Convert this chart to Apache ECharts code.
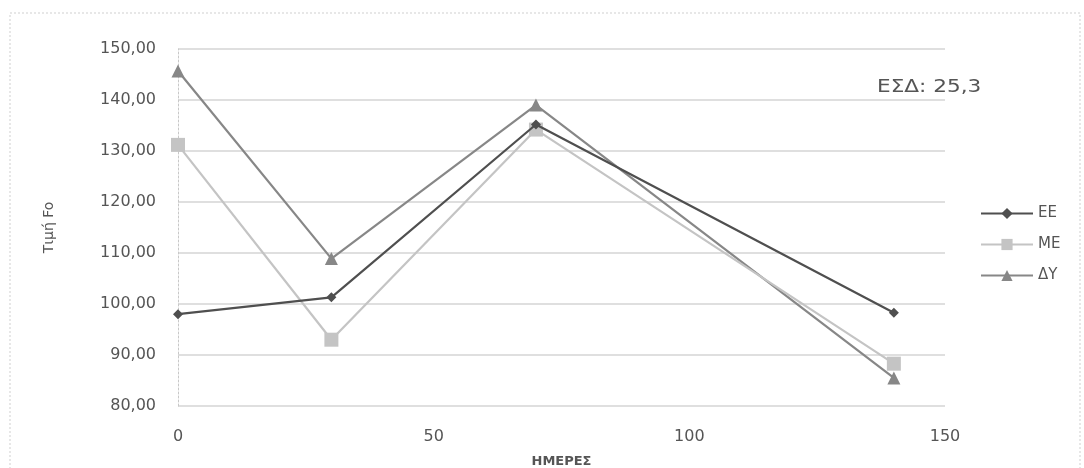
<!DOCTYPE html>
<html><head><meta charset="utf-8">
<script src="https://cdn.jsdelivr.net/npm/echarts@6/dist/echarts.min.js"></script>
<style>html,body{margin:0;padding:0;background:#fff}#c{width:1084px;height:468px}</style>
</head><body><div id="c"></div>
<script>
const days = [0, 30, 70, 140];
const seriesNames = ['ΕΕ', 'ΜΕ', 'ΔΥ'];
const valuesEE = [98.0, 101.3, 135.2, 98.3];
const valuesME = [131.2, 93.0, 134.2, 88.3];
const valuesDY = [145.7, 108.9, 139.0, 85.5];
const yTicks = [80, 90, 100, 110, 120, 130, 140, 150];
const xTicks = [0, 50, 100, 150];
const annotation = 'ΕΣΔ: 25,3';

const colors = ['#4f4f4f', '#c4c4c4', '#878787'];
const symbols = ['diamond', 'rect', 'triangle'];
const sizes = [10, 14, 13];
const all = [valuesEE, valuesME, valuesDY];

const chart = echarts.init(document.getElementById('c'));
const font = '"DejaVu Sans", "Open Sans", sans-serif';
chart.setOption({
  animation: false,
  backgroundColor: '#fff',
  grid: {left: 178, right: 139, top: 49, bottom: 62, show: false, outerBoundsMode: 'none', containLabel: false},
  graphic: [
    {type: 'rect', shape: {x: 10, y: 13, width: 1070, height: 460}, style: {fill: 'none', stroke: '#cfcfcf', lineWidth: 1, lineDash: [2, 2]}},
    {type: 'text', x: 877, y: 78, scaleX: 1.2, style: {text: annotation, font: '18px ' + font, fill: '#555'}}
  ],
  legend: {
    orient: 'vertical', left: 975, top: 201, itemGap: 16, itemWidth: 52, itemHeight: 14,
    textStyle: {fontFamily: font, fontSize: 15, color: '#555'},
    data: seriesNames
  },
  xAxis: {
    type: 'value', min: 0, max: 150, interval: 50,
    name: 'ΗΜΕΡΕΣ', nameLocation: 'middle', nameGap: 49,
    nameTextStyle: {fontFamily: font, fontSize: 13, fontWeight: 'bold', color: '#555'},
    axisLine: {show: false}, axisTick: {show: false},
    axisLabel: {fontFamily: font, fontSize: 16, color: '#555', margin: 23,
      formatter: v => xTicks.includes(v) ? String(v) : ''},
    splitLine: {show: false}
  },
  yAxis: {
    type: 'value', min: 80, max: 150, interval: 10,
    name: 'Τιμή Fo', nameLocation: 'middle', nameGap: 122, nameRotate: 90,
    nameTextStyle: {fontFamily: font, fontSize: 14, color: '#555'},
    axisLine: {show: true, lineStyle: {color: '#c8c8c8', type: [2, 2], width: 1}},
    axisTick: {show: false},
    axisLabel: {fontFamily: font, fontSize: 16, color: '#555', margin: 22,
      formatter: v => yTicks.includes(v) ? v.toFixed(2).replace('.', ',') : ''},
    splitLine: {lineStyle: {color: '#d4d4d4', width: 1.5}}
  },
  series: seriesNames.map((n, i) => ({
    name: n, type: 'line',
    data: days.map((d, j) => [d, all[i][j]]),
    symbol: symbols[i], symbolSize: sizes[i], showAllSymbol: true,
    lineStyle: {color: colors[i], width: 2.2},
    itemStyle: {color: colors[i]},
    z: 3 - i
  }))
});
</script></body></html>
